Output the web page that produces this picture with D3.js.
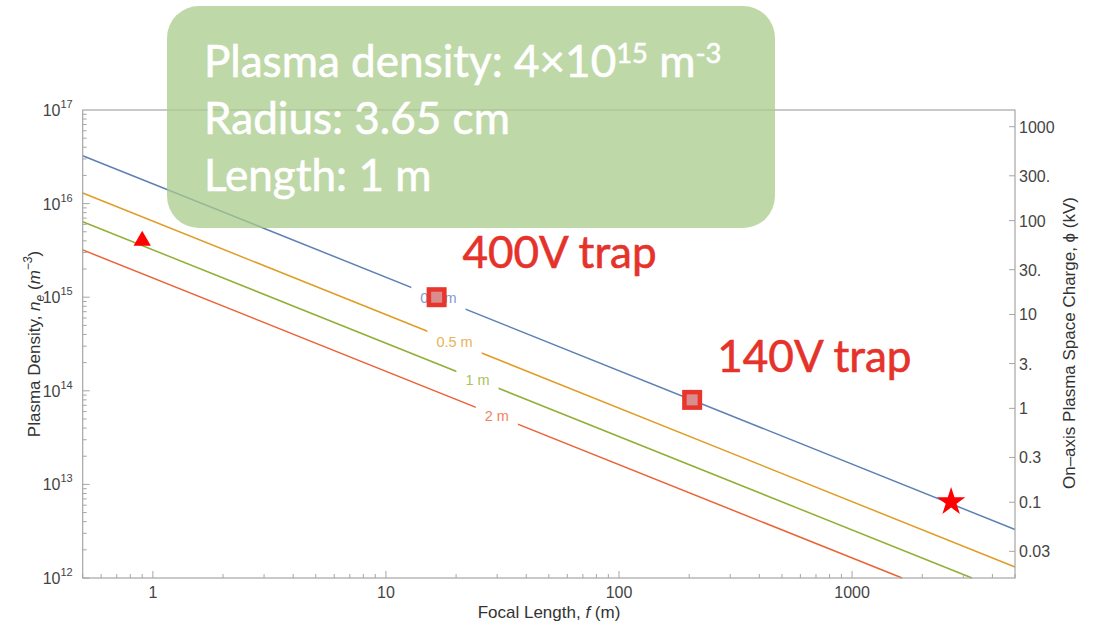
<!DOCTYPE html>
<html><head><meta charset="utf-8">
<script src="https://cdn.jsdelivr.net/npm/d3@7"></script>
<style>body{margin:0;background:#fff} svg{display:block}</style>
</head><body><svg id="c" width="1101" height="627"></svg>
<script>
// ---- data ----
const fDomain = [0.5, 5000];          // focal length (m)
const nDomain = [1e12, 1e17];         // plasma density (m^-3)
const phiDomain = [0.0156, 1506];     // on-axis space charge (kV)
const xTicks = [1, 10, 100, 1000];
const yTickExps = [12, 13, 14, 15, 16, 17];
const phiTicks = [1000, 300, 100, 30, 10, 3, 1, 0.3, 0.1, 0.03];
const phiTickLabels = ["1000", "300.", "100", "30.", "10", "3.", "1", "0.3", "0.1", "0.03"];
const lengthLabels = ["0.2 m", "0.5 m", "1 m", "2 m"];
const lineStartF = [0.5, 0.5, 0.5, 0.5];
const lineEndF = [5000, 5000, 3270, 1640];
const lineStartN = [3.25e16, 1.3e16, 6.4e15, 3.2e15];
const lineEndN = [3.3e12, 1.31e12, 1e12, 1e12];
const labelF = [16.8, 19.7, 24.7, 29.9];
const markerKinds = ["triangle", "square", "square", "star"];
const markerF = [0.9, 16.5, 206, 2660];
const markerN = [4e15, 1e15, 8e13, 6.5e12];
const trapLabels = ["400V trap", "140V trap"];
const trapF = [21.3, 264];
const trapN = [2.05e15, 1.58e14];

// ---- styles ----
const lineColors = ["#5e81b5", "#e19c24", "#8fb032", "#eb6235"];
const labelColors = ["#7f9bcc", "#eab256", "#a5c45a", "#ef8463"];
const M = {left: 82.7, right: 1015, top: 110, bottom: 578};

const svg = d3.select("#c");
const x = d3.scaleLog().domain(fDomain).range([M.left, M.right]);
const y = d3.scaleLog().domain(nDomain).range([M.bottom, M.top]);
const yR = d3.scaleLog().domain(phiDomain).range([M.bottom, M.top]);

const axisFont = "'Liberation Sans', Arial, sans-serif";
const frameColor = "#a6a6a6";
const tickText = "#444";
const tickFs = 16;
const titleFs = 17;

// lines
const lineGen = d3.line().x(d => x(d[0])).y(d => y(d[1]));
lineColors.forEach((c, i) => {
  svg.append("path")
    .attr("d", lineGen([[lineStartF[i], lineStartN[i]], [lineEndF[i], lineEndN[i]]]))
    .attr("fill", "none").attr("stroke", c).attr("stroke-width", 1.5);
});

// contour-style labels with gaps
lengthLabels.forEach((t, i) => {
  const lf0 = Math.log(lineStartF[i]), lf1 = Math.log(lineEndF[i]);
  const ln0 = Math.log(lineStartN[i]), ln1 = Math.log(lineEndN[i]);
  const tt = (Math.log(labelF[i]) - lf0) / (lf1 - lf0);
  const n = Math.exp(ln0 + tt * (ln1 - ln0));
  const cx = x(labelF[i]), cy = y(n);
  const g = svg.append("g");
  const txt = g.append("text").attr("x", cx).attr("y", cy + 5)
    .attr("text-anchor", "middle").attr("font-family", axisFont)
    .attr("font-size", 14.5).attr("fill", labelColors[i]).text(t);
  const w = txt.node().getComputedTextLength();
  g.insert("rect", "text").attr("x", cx - w / 2 - 9).attr("y", cy - 13)
    .attr("width", w + 18).attr("height", 26).attr("fill", "#fff");
});

// frame
svg.append("rect").attr("x", M.left).attr("y", M.top)
  .attr("width", M.right - M.left).attr("height", M.bottom - M.top)
  .attr("fill", "none").attr("stroke", frameColor).attr("stroke-width", 1.2);

// bottom axis ticks
const xMinor = [];
for (let e = -1; e <= 3; e++) for (let k = 1; k <= 9; k++) {
  const v = k * Math.pow(10, e);
  if (v >= fDomain[0] && v <= fDomain[1]) xMinor.push(v);
}
xMinor.forEach(v => {
  const major = xTicks.includes(v);
  svg.append("line").attr("x1", x(v)).attr("x2", x(v))
    .attr("y1", M.bottom).attr("y2", M.bottom - (major ? 7 : 4))
    .attr("stroke", frameColor).attr("stroke-width", 1);
});
xTicks.forEach(v => {
  svg.append("text").attr("x", x(v)).attr("y", M.bottom + 20)
    .attr("text-anchor", "middle").attr("font-family", axisFont)
    .attr("font-size", tickFs).attr("fill", tickText).text(String(v));
});

// left axis ticks
for (let e = 12; e <= 16; e++) for (let k = 1; k <= 9; k++) {
  const v = k * Math.pow(10, e);
  svg.append("line").attr("x1", M.left).attr("x2", M.left + (k === 1 ? 7 : 4))
    .attr("y1", y(v)).attr("y2", y(v)).attr("stroke", frameColor).attr("stroke-width", 1);
}
yTickExps.forEach(e => {
  const t = svg.append("text").attr("x", M.left - 10).attr("y", y(Math.pow(10, e)) + 6)
    .attr("text-anchor", "end").attr("font-family", axisFont)
    .attr("font-size", tickFs).attr("fill", tickText);
  t.append("tspan").text("10");
  t.append("tspan").attr("dy", -8).attr("font-size", 11).text(String(e));
});

// right axis ticks
phiTicks.forEach((v, i) => {
  svg.append("line").attr("x1", M.right).attr("x2", M.right - 6)
    .attr("y1", yR(v)).attr("y2", yR(v)).attr("stroke", frameColor).attr("stroke-width", 1);
  svg.append("text").attr("x", M.right + 4).attr("y", yR(v) + 6)
    .attr("font-family", axisFont).attr("font-size", tickFs)
    .attr("fill", tickText).text(phiTickLabels[i]);
});

// axis titles
const xt = svg.append("text").attr("x", 549).attr("y", 618)
  .attr("text-anchor", "middle").attr("font-family", axisFont).attr("font-size", titleFs).attr("fill", "#333");
xt.append("tspan").text("Focal Length, ");
xt.append("tspan").attr("font-style", "italic").text("f");
xt.append("tspan").text(" (m)");

const yt = svg.append("text").attr("transform", `translate(40,344) rotate(-90)`)
  .attr("text-anchor", "middle").attr("font-family", axisFont).attr("font-size", titleFs).attr("fill", "#333");
yt.append("tspan").text("Plasma Density, ");
yt.append("tspan").attr("font-style", "italic").text("n");
yt.append("tspan").attr("font-style", "italic").attr("font-size", 12).attr("dy", 4).text("e");
yt.append("tspan").attr("dy", -4).text(" (");
yt.append("tspan").attr("font-style", "italic").text("m");
yt.append("tspan").attr("font-style", "italic").attr("font-size", 12).attr("dy", -8).text("−3");
yt.append("tspan").attr("dy", 8).text(")");

svg.append("text").attr("transform", `translate(1075,343) rotate(-90)`)
  .attr("text-anchor", "middle").attr("font-family", axisFont).attr("font-size", titleFs).attr("fill", "#333")
  .text("On–axis Plasma Space Charge, ϕ (kV)");

// markers
const red = "#ff0000";
markerKinds.forEach((k, i) => {
  const cx = x(markerF[i]), cy = y(markerN[i]);
  if (k === "triangle") {
    svg.append("path").attr("d", d3.symbol(d3.symbolTriangle, 130)())
      .attr("transform", `translate(${cx},${cy})`).attr("fill", red);
  } else if (k === "star") {
    svg.append("path").attr("d", d3.symbol(d3.symbolStar, 250)())
      .attr("transform", `translate(${cx},${cy})`).attr("fill", red);
  } else {
    svg.append("rect").attr("x", cx - 10).attr("y", cy - 10).attr("width", 20).attr("height", 20)
      .attr("fill", "#e8362c");
    svg.append("rect").attr("x", cx - 5.5).attr("y", cy - 5.5).attr("width", 11).attr("height", 11)
      .attr("fill", "#d98d8d");
  }
});

// info box
const boxFont = "Lato, 'Open Sans', sans-serif";
svg.append("rect").attr("x", 167).attr("y", 6).attr("width", 608).attr("height", 222)
  .attr("rx", 32).attr("ry", 32).attr("fill", "#a9cb8b").attr("fill-opacity", 0.75);
const info = svg.append("g").attr("font-family", boxFont).attr("fill", "#fff");
const l1 = info.append("text").attr("x", 204).attr("y", 77);
l1.append("tspan").text("Plasma density: 4×10");
l1.append("tspan").attr("dy", -14).attr("class", "sup").text("15");
l1.append("tspan").attr("dy", 14).text(" m");
l1.append("tspan").attr("dy", -14).attr("class", "sup").text("-3");
const l2 = info.append("text").attr("x", 204).attr("y", 134).text("Radius: 3.65 cm");
const l3 = info.append("text").attr("x", 204).attr("y", 191).text("Length: 1 m");
l2.attr("font-size", 40);
const w2 = l2.node().getComputedTextLength();
const fs = 40 * 306 / w2;
info.selectAll("text").attr("font-size", fs).attr("stroke", "#fff").attr("stroke-width", 0.6);
info.selectAll(".sup").attr("font-size", fs * 0.62);

// trap labels
trapLabels.forEach((t, i) => {
  svg.append("text").attr("x", x(trapF[i])).attr("y", y(trapN[i]))
    .attr("font-family", boxFont).attr("font-size", fs).attr("fill", "#e5322a")
    .attr("stroke", "#e5322a").attr("stroke-width", 0.6).text(t);
});
</script></body></html>
